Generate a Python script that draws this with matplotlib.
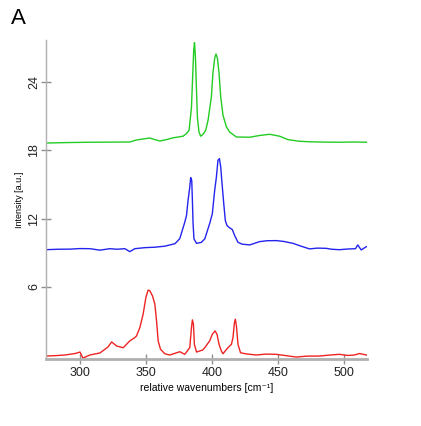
import matplotlib
matplotlib.use("Agg")
import matplotlib.pyplot as plt

# Green spectrum (top)
green_x = [274.2, 290, 307.5, 322, 337.8, 342.5, 348, 353.0, 356.5, 360.6, 366, 370.6, 375, 378.2, 380.8,
           382.8, 384.6, 385.6, 386.3, 386.9, 387.6, 388.4, 389.1, 390.3, 391.6, 393.4, 395.4,
           397.2, 399.7, 400.9, 402.2, 403.2, 404.3, 405.5, 406.8, 408.5, 411.1, 413.6, 418.7,
           428.7, 436, 443.9, 451.5, 457.8, 466, 474.2, 486, 497, 508, 517.4]
green_y = [18.64, 18.68, 18.71, 18.72, 18.73, 18.9, 19.0, 19.08, 18.95, 18.82, 18.95, 19.1, 19.18, 19.24, 19.47,
           19.76, 21.8, 24.8, 26.8, 27.47, 26.2, 23.3, 20.9, 19.6, 19.24, 19.41, 19.76,
           20.65, 22.7, 24.8, 26.1, 26.47, 26.1, 24.8, 22.7, 21.1, 20.06, 19.6, 19.17,
           19.15, 19.3, 19.41, 19.24, 18.94, 18.8, 18.75, 18.72, 18.71, 18.73, 18.71]

# Blue spectrum (middle)
blue_x = [274.2, 283, 292.4, 300, 307.5, 315.1, 322.7, 328, 334.0, 337.8, 341.6, 349.2, 356.8, 364.4, 372.1,
          375.7, 379.5, 380.8, 382.0, 383.3, 384.0, 384.8, 385.3, 385.8, 386.5, 388.4, 392, 394.7,
          398.4, 400.4, 402.2, 403.5, 404.7, 405.8, 406.8, 407.8, 409.1, 410.3, 411.6, 413.6, 415.6,
          417.4, 419.9, 423, 428.8, 436.3, 442, 449.0, 455, 461.6, 467, 474.2, 480, 486.9, 491, 496.9,
          503, 509.1, 510.8, 513.4, 517.4]
blue_y = [9.26, 9.3, 9.31, 9.36, 9.35, 9.22, 9.35, 9.3, 9.35, 9.09, 9.35, 9.44, 9.48, 9.57, 9.79,
          10.23, 11.67, 12.26, 13.59, 14.76, 15.6, 15.35, 13.59, 11.56, 10.21, 9.82, 9.9, 10.21,
          11.56, 12.41, 14.47, 15.64, 17.12, 17.27, 16.53, 15.06, 13.3, 11.82, 11.38, 11.18, 11.03,
          10.5, 9.91, 9.75, 9.68, 9.97, 10.05, 10.06, 9.98, 9.82, 9.6, 9.33, 9.4, 9.38, 9.3, 9.26,
          9.32, 9.35, 9.68, 9.24, 9.53]

# Red spectrum (bottom)
red_x = [274.2, 282, 288.6, 296.2, 300.0, 302.2, 307.5, 315.1, 321.2, 324.0, 327.8, 332.8, 337.8, 341.6,
         342.9, 345.4, 347.9, 350.0, 351.7, 353.0, 355.0, 356.8, 358.1, 359.3, 361.1, 364.4, 368.1,
         375.7, 379.5, 383.3, 384.6, 385.3, 386.1, 386.8, 388.4, 393.1, 394.7, 398.4, 400.4, 402.5,
         404.0, 405.5, 407.3, 408.5, 412.3, 414.9, 416.1, 417.2, 417.9, 418.7, 419.9, 421.8, 426,
         433.8, 441, 449.0, 456, 464.1, 472, 481.8, 490, 496.9, 503, 508.3, 512.1, 517.4]
red_y = [-0.09, -0.05, 0.0, 0.13, 0.26, -0.27, 0.0, 0.18, 0.70, 1.15, 0.79, 0.64, 1.24, 1.53,
         1.68, 2.41, 3.59, 5.06, 5.71, 5.65, 5.2, 4.47, 3.0, 1.24, 0.5, 0.11, 0.0,
         0.29, 0.06, 0.65, 2.41, 3.09, 2.71, 0.94, 0.26, 0.44, 0.65, 1.24, 1.82, 2.12,
         1.82, 0.94, 0.35, 0.11, 0.65, 0.94, 1.53, 2.85, 3.15, 2.56, 0.94, 0.2, 0.1,
         0.0, 0.08, 0.06, -0.05, -0.18, -0.1, -0.09, 0.0, 0.06, -0.04, 0.0, 0.13, 0.0]

x_ticks = [300, 350, 400, 450, 500]
y_ticks = [6, 12, 18, 24]

font = ["Liberation Sans", "DejaVu Sans"]

fig = plt.figure(figsize=(4.21, 4.26), dpi=100)
ax = fig.add_axes([0.1093, 0.1573, 0.7624, 0.7488])

ax.plot(green_x, green_y, color="#22cc22", lw=1.0)
ax.plot(blue_x, blue_y, color="#2424ee", lw=1.0)
ax.plot(red_x, red_y, color="#ee2424", lw=1.0)

ax.set_xlim(274.2, 517.8)
ax.set_ylim(-0.35, 27.7)
ax.set_xticks(x_ticks)
ax.set_yticks(y_ticks)

for s in ["top", "right"]:
    ax.spines[s].set_visible(False)
ax.spines["left"].set_color("#b0b0b0")
ax.spines["left"].set_linewidth(1.0)
ax.spines["bottom"].set_color("#b0b0b0")
ax.spines["bottom"].set_linewidth(2.0)

ax.tick_params(axis="both", direction="inout", length=7, width=1.0, color="#909090",
               labelsize=9, labelcolor="#222222")
ax.tick_params(axis="x", pad=2)
ax.tick_params(axis="y", pad=0.5)
for lab in ax.get_yticklabels():
    lab.set_rotation(90)
    lab.set_va("center")

for lab in ax.get_xticklabels() + ax.get_yticklabels():
    lab.set_family(font)

ax.set_xlabel("relative wavenumbers [cm\u207b\u00b9]", fontsize=7.5, family=font, labelpad=3)
ax.set_ylabel("Intensity [a.u.]", fontsize=6.5, family=font, labelpad=3)

fig.text(18 / 421, 1 - 18 / 426, "A", fontsize=16, family=font, ha="center", va="center")

fig.savefig("out.png", dpi=100)
